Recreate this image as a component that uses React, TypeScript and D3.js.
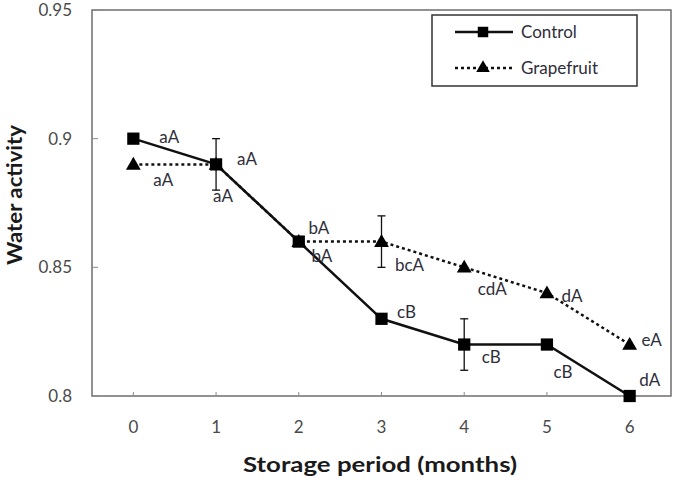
import React, { useEffect, useRef } from 'react';
import * as d3 from 'd3';

const months = ['0', '1', '2', '3', '4', '5', '6'];
const controlValues = [0.9, 0.89, 0.86, 0.83, 0.82, 0.82, 0.8];
const grapefruitValues = [0.89, 0.89, 0.86, 0.86, 0.85, 0.84, 0.82];
// error bars (± value, 0 = none)
const controlErrors = [0, 0.01, 0, 0, 0.01, 0, 0];
const grapefruitErrors = [0, 0, 0, 0.01, 0, 0, 0];
const controlLetters = ['aA', 'aA', 'bA', 'cB', 'cB', 'cB', 'dA'];
const grapefruitLetters = ['aA', 'aA', 'bA', 'bcA', 'cdA', 'dA', 'eA'];
const yTicks = [0.8, 0.85, 0.9, 0.95];

// label offsets from each point, in px
const controlLabelOffsets = [
  [36, -2], [31, -5], [20, -14], [25, -7], [27, 13], [16, 28], [20, -16],
];
const grapefruitLabelOffsets = [
  [30, 16], [7, 32], [23, 14], [28, 23], [28, 22], [25, 3], [22, -4],
];

const W = 677;
const H = 483;
const margin = { top: 10, right: 6, bottom: 87, left: 92 };
const FONT = 'Lato, "Open Sans", sans-serif';

const App = () => {
  const ref = useRef<SVGSVGElement | null>(null);

  useEffect(() => {
    const svg = d3.select(ref.current);
    svg.selectAll('*').remove();

    const innerW = W - margin.left - margin.right;
    const innerH = H - margin.top - margin.bottom;

    const x = d3.scaleBand<string>().domain(months).range([0, innerW]);
    const y = d3.scaleLinear().domain([0.8, 0.95]).range([innerH, 0]);
    const cx = (m: string) => (x(m) as number) + x.bandwidth() / 2;

    const g = svg.append('g').attr('transform', `translate(${margin.left},${margin.top})`);

    // frame
    g.append('rect')
      .attr('x', 0).attr('y', 0)
      .attr('width', innerW).attr('height', innerH)
      .attr('fill', 'none').attr('stroke', '#6e6e6e').attr('stroke-width', 1.5);

    // y ticks and labels
    g.selectAll('.ytick').data(yTicks).enter().append('line')
      .attr('x1', 0).attr('x2', 6)
      .attr('y1', d => y(d)).attr('y2', d => y(d))
      .attr('stroke', '#8a8a8a').attr('stroke-width', 1);
    g.selectAll('.ylab').data(yTicks).enter().append('text')
      .attr('x', -20).attr('y', d => y(d)).attr('dy', '0.35em')
      .attr('text-anchor', 'end')
      .attr('font-family', FONT).attr('font-size', 17).attr('fill', '#4a4a4a')
      .text(d => d3.format('')(d));

    // x ticks and labels
    g.selectAll('.xtick').data(months).enter().append('line')
      .attr('x1', d => cx(d)).attr('x2', d => cx(d))
      .attr('y1', innerH).attr('y2', innerH - 4)
      .attr('stroke', '#8a8a8a').attr('stroke-width', 1);
    g.selectAll('.xlab').data(months).enter().append('text')
      .attr('x', d => cx(d)).attr('y', innerH + 31).attr('dy', '0.35em')
      .attr('text-anchor', 'middle')
      .attr('font-family', FONT).attr('font-size', 17).attr('fill', '#4a4a4a')
      .text(d => d);

    // axis titles
    svg.append('text')
      .attr('transform', `translate(22,195) rotate(-90)`)
      .attr('text-anchor', 'middle')
      .attr('font-family', FONT).attr('font-size', 20).attr('font-weight', 'bold').attr('fill', '#1a1a1a')
      .attr('textLength', 140).attr('lengthAdjust', 'spacingAndGlyphs')
      .text('Water activity');
    svg.append('text')
      .attr('x', 380).attr('y', 472)
      .attr('text-anchor', 'middle')
      .attr('font-family', FONT).attr('font-size', 20).attr('font-weight', 'bold').attr('fill', '#1a1a1a')
      .attr('textLength', 274).attr('lengthAdjust', 'spacingAndGlyphs')
      .text('Storage period (months)');

    const line = d3.line<number>()
      .x((_, i) => cx(months[i]))
      .y(d => y(d));

    const series = [
      { values: grapefruitValues, errors: grapefruitErrors, letters: grapefruitLetters, offsets: grapefruitLabelOffsets, dash: '3 3', shape: d3.symbolTriangle },
      { values: controlValues, errors: controlErrors, letters: controlLetters, offsets: controlLabelOffsets, dash: null, shape: d3.symbolSquare },
    ];

    series.forEach(s => {
      g.append('path')
        .datum(s.values)
        .attr('d', line)
        .attr('fill', 'none')
        .attr('stroke', '#111')
        .attr('stroke-width', 2.5)
        .attr('stroke-dasharray', s.dash);
    });

    series.forEach(s => {
      // error bars
      s.values.forEach((v, i) => {
        const e = s.errors[i];
        if (!e) return;
        const px = cx(months[i]);
        const eg = g.append('g').attr('stroke', '#111').attr('stroke-width', 1.3);
        eg.append('line').attr('x1', px).attr('x2', px).attr('y1', y(v - e)).attr('y2', y(v + e));
        eg.append('line').attr('x1', px - 4).attr('x2', px + 4).attr('y1', y(v - e)).attr('y2', y(v - e));
        eg.append('line').attr('x1', px - 4).attr('x2', px + 4).attr('y1', y(v + e)).attr('y2', y(v + e));
      });

      const sym = d3.symbol().type(s.shape).size(s.shape === d3.symbolSquare ? 150 : 95);
      g.selectAll(null).data(s.values).enter().append('path')
        .attr('d', sym)
        .attr('transform', (d, i) => `translate(${cx(months[i])},${y(d) + (s.shape === d3.symbolTriangle ? 1 : 0)})`)
        .attr('fill', '#000');

      g.selectAll(null).data(s.values).enter().append('text')
        .attr('x', (d, i) => cx(months[i]) + s.offsets[i][0])
        .attr('y', (d, i) => y(d) + s.offsets[i][1])
        .attr('dy', '0.35em')
        .attr('text-anchor', 'middle')
        .attr('font-family', FONT).attr('font-size', 17).attr('fill', '#2e2e3a')
        .text((d, i) => s.letters[i]);
    });

    // legend
    const lg = svg.append('g').attr('transform', 'translate(432,15)');
    lg.append('rect')
      .attr('width', 205).attr('height', 71)
      .attr('fill', '#fff').attr('stroke', '#333').attr('stroke-width', 1.5);
    const entries = [
      { name: 'Control', dash: null, shape: d3.symbolSquare, size: 110, cy: 17 },
      { name: 'Grapefruit', dash: '3 3', shape: d3.symbolTriangle, size: 80, cy: 53 },
    ];
    entries.forEach(e => {
      lg.append('line')
        .attr('x1', 23).attr('x2', 81).attr('y1', e.cy).attr('y2', e.cy)
        .attr('stroke', '#111').attr('stroke-width', 2.5)
        .attr('stroke-dasharray', e.dash);
      lg.append('path')
        .attr('d', d3.symbol().type(e.shape).size(e.size))
        .attr('transform', `translate(51,${e.cy})`)
        .attr('fill', '#000');
      lg.append('text')
        .attr('x', 89).attr('y', e.cy).attr('dy', '0.35em')
        .attr('font-family', FONT).attr('font-size', 17).attr('fill', '#2e2e3a')
        .text(e.name);
    });
  }, []);

  return (
    <svg ref={ref} width={W} height={H} style={{ position: 'absolute', left: 0, top: 0, background: '#fff' }} />
  );
};

export default App;
